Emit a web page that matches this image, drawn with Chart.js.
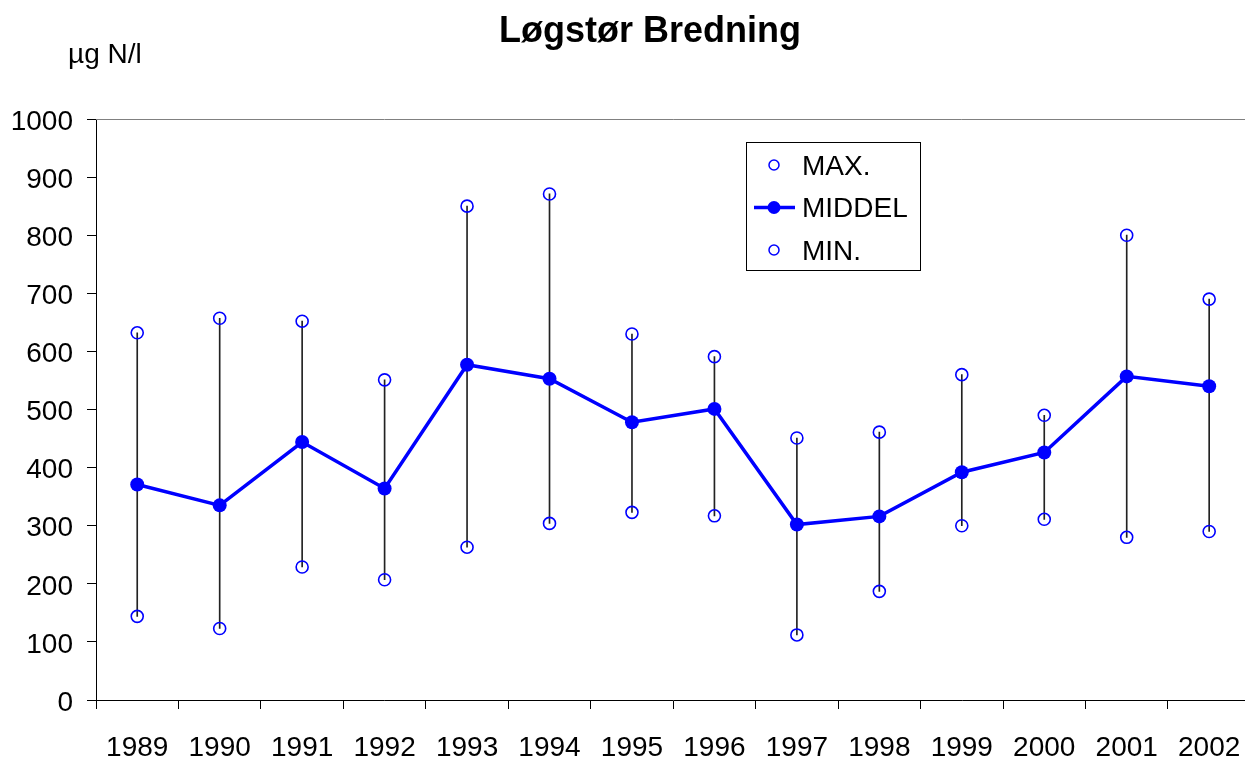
<!DOCTYPE html>
<html><head><meta charset="utf-8">
<script src="https://cdn.jsdelivr.net/npm/chart.js@4.4.1/dist/chart.umd.min.js"></script>
<style>html,body{margin:0;padding:0;background:#fff;overflow:hidden}
#wrap{position:relative;width:1258px;height:760px}</style></head>
<body><div id="wrap"><canvas id="c" width="1258" height="760"></canvas></div>
<script>
const years = ['1989','1990','1991','1992','1993','1994','1995','1996','1997','1998','1999','2000','2001','2002'];
const maxValues  = [632, 657, 652, 551, 850, 871, 630, 591, 451, 461, 560, 490, 800, 690];
const meanValues = [371, 335, 444, 364, 577, 553, 478, 501, 302, 316, 392, 426, 557, 540];
const minValues  = [144, 123, 229, 207, 263, 304, 323, 317, 112, 187, 300, 311, 280, 290];
const yMin = 0, yMax = 1000, yStep = 100;
const titleText = 'Løgstør Bredning';
const unitText = 'µg N/l';
const seriesNames = ['MAX.', 'MIDDEL', 'MIN.'];

const FONT = "'Liberation Sans', Arial, sans-serif";
const BLUE = '#0000ff';

const extras = {
  id: 'extras',
  beforeDatasetsDraw(chart) {
    const {ctx, chartArea: a} = chart;
    ctx.save();
    ctx.strokeStyle = '#808080';
    ctx.lineWidth = 1;
    ctx.beginPath();
    ctx.moveTo(a.left, Math.round(a.top) + 0.5);
    ctx.lineTo(a.right, Math.round(a.top) + 0.5);
    ctx.stroke();
    ctx.restore();
  },
  afterDraw(chart) {
    const ctx = chart.ctx;
    ctx.save();
    // title
    ctx.font = 'bold 36px ' + FONT;
    ctx.fillStyle = '#000';
    ctx.textAlign = 'center';
    ctx.textBaseline = 'middle';
    ctx.fillText(titleText, 650, 32);
    // unit label
    ctx.font = '28px ' + FONT;
    ctx.textAlign = 'left';
    ctx.textBaseline = 'alphabetic';
    ctx.fillText(unitText, 68, 63);

    // legend box
    const L = {x: 746.5, y: 142.5, w: 174, h: 128, mx: 774, tx: 802, rows: [165, 207.5, 250]};
    ctx.strokeStyle = '#000';
    ctx.lineWidth = 1;
    ctx.strokeRect(L.x, L.y, L.w, L.h);
    ctx.font = '28px ' + FONT;
    ctx.textBaseline = 'middle';
    ctx.fillStyle = '#000';
    // MAX
    ctx.strokeStyle = BLUE; ctx.lineWidth = 1.5;
    ctx.beginPath(); ctx.arc(L.mx, L.rows[0], 5, 0, Math.PI * 2); ctx.stroke();
    ctx.fillText(seriesNames[0], L.tx, L.rows[0] + 2);
    // MIDDEL
    ctx.lineWidth = 3.5;
    ctx.beginPath(); ctx.moveTo(754, L.rows[1]); ctx.lineTo(795, L.rows[1]); ctx.stroke();
    ctx.fillStyle = BLUE;
    ctx.beginPath(); ctx.arc(L.mx, L.rows[1], 6.5, 0, Math.PI * 2); ctx.fill();
    ctx.fillStyle = '#000';
    ctx.fillText(seriesNames[1], L.tx, L.rows[1] + 2);
    // MIN
    ctx.lineWidth = 1.5;
    ctx.beginPath(); ctx.arc(L.mx, L.rows[2], 5, 0, Math.PI * 2); ctx.stroke();
    ctx.fillText(seriesNames[2], L.tx, L.rows[2] + 2);
    ctx.restore();
  }
};

new Chart(document.getElementById('c'), {
  data: {
    labels: years,
    datasets: [
      {
        type: 'bar', label: 'range',
        data: years.map((_, i) => [minValues[i], maxValues[i]]),
        backgroundColor: '#222', borderWidth: 0, barThickness: 1, order: 10
      },
      {
        type: 'line', label: seriesNames[0], data: maxValues, showLine: false,
        pointStyle: 'circle', pointRadius: 6, pointBorderWidth: 1.6,
        pointBorderColor: BLUE, pointBackgroundColor: 'rgba(0,0,0,0)', order: 1
      },
      {
        type: 'line', label: seriesNames[1], data: meanValues, borderColor: BLUE, borderWidth: 3.5,
        pointStyle: 'circle', pointRadius: 7, pointBorderWidth: 0,
        pointBackgroundColor: BLUE, pointBorderColor: BLUE, tension: 0, order: 0
      },
      {
        type: 'line', label: seriesNames[2], data: minValues, showLine: false,
        pointStyle: 'circle', pointRadius: 6, pointBorderWidth: 1.6,
        pointBorderColor: BLUE, pointBackgroundColor: 'rgba(0,0,0,0)', order: 1
      }
    ]
  },
  options: {
    responsive: false,
    animation: false,
    events: [],
    layout: {padding: {left: 0, right: 2, top: 119, bottom: 0}},
    plugins: {
      legend: {display: false},
      tooltip: {enabled: false},
      title: {display: false}
    },
    scales: {
      x: {
        type: 'category', offset: true,
        grid: {offset: true, drawOnChartArea: false, drawTicks: true, tickLength: 9, color: '#000', lineWidth: 1},
        border: {color: '#000', width: 1},
        ticks: {font: {family: FONT, size: 28, lineHeight: 2.07}, color: '#000', padding: 10, maxRotation: 0, autoSkip: false},
        afterFit(s) { s.height = 60; }
      },
      y: {
        min: yMin, max: yMax,
        grid: {drawOnChartArea: false, drawTicks: true, tickLength: 9, color: '#000', lineWidth: 1},
        border: {color: '#000', width: 1},
        ticks: {stepSize: yStep, font: {family: FONT, size: 28}, color: '#000', padding: 14, labelOffset: 3,
                callback: (v) => String(v)},
        afterFit(s) { s.width = 96; }
      }
    }
  },
  plugins: [extras]
});
</script>
</body></html>
